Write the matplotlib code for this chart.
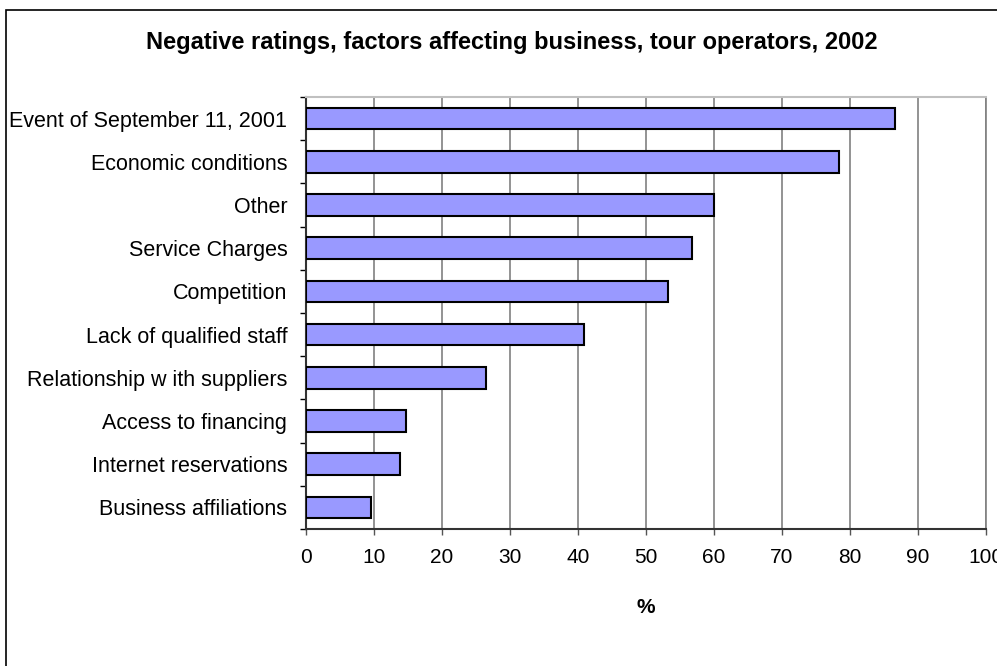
import matplotlib
matplotlib.use("Agg")
import matplotlib.pyplot as plt
from matplotlib.patches import Rectangle
import numpy as np

categories = [
    "Event of September 11, 2001",
    "Economic conditions",
    "Other",
    "Service Charges",
    "Competition",
    "Lack of qualified staff",
    "Relationship w ith suppliers",
    "Access to financing",
    "Internet reservations",
    "Business affiliations",
]
values = [86.6, 78.4, 60.0, 56.7, 53.3, 40.9, 26.5, 14.7, 13.8, 9.5]
xticks = [0, 10, 20, 30, 40, 50, 60, 70, 80, 90, 100]

plt.rcParams['font.family'] = ['Liberation Sans', 'DejaVu Sans']

W, H = 997, 666
fig = plt.figure(figsize=(W / 100, H / 100), dpi=100)

# outer chart border
fig.patches.append(Rectangle((6 / W, -0.1), 1.2, 1 - 10 / H + 0.1,
                             transform=fig.transFigure, fill=False,
                             edgecolor='#000000', linewidth=1.2))

ax = fig.add_axes([306 / W, 1 - 529 / H, (986 - 306) / W, (529 - 97) / H])

n = len(categories)
y = np.arange(n)[::-1]
ax.barh(y, values, height=0.5, color='#9999FF', edgecolor='#000000',
        linewidth=1.5, zorder=3)

ax.set_xlim(0, 100)
ax.set_ylim(-0.5, n - 0.5)
ax.set_xticks(xticks)
ax.set_xticklabels([str(t) for t in xticks], fontsize=15)
ax.set_yticks(y)
ax.set_yticklabels(categories, fontsize=15.5)
ax.set_yticks(np.arange(n + 1) - 0.5, minor=True)

ax.tick_params(axis='y', which='major', length=0, pad=13.5)
ax.tick_params(axis='y', which='minor', length=4, width=1, color='#000000', direction='out')
ax.tick_params(axis='x', which='major', length=4, width=1, color='#555555', direction='out', pad=10)

ax.xaxis.grid(True, color='#808080', linewidth=1.2, zorder=0)
ax.set_axisbelow(True)

for side in ['left', 'bottom']:
    ax.spines[side].set_color('#333333')
    ax.spines[side].set_linewidth(1.5)
ax.spines['top'].set_color('#C0C0C0')
ax.spines['top'].set_linewidth(1.5)
ax.spines['right'].set_color('#808080')
ax.spines['right'].set_linewidth(1.2)

ax.set_xlabel('%', fontsize=15, fontweight='bold', labelpad=22)

fig.text(512 / W, 1 - 42 / H,
         'Negative ratings, factors affecting business, tour operators, 2002',
         ha='center', va='center', fontsize=17, fontweight='bold')

fig.savefig('out.png', dpi=100)
